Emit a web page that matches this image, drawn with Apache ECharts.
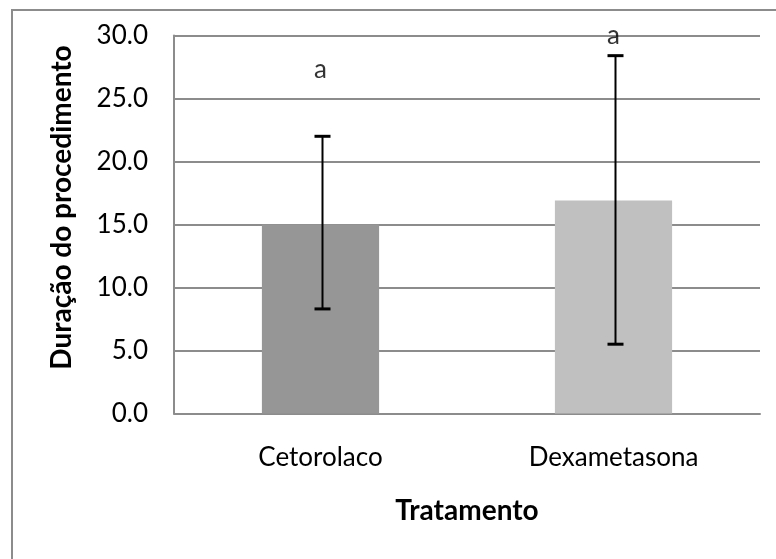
<!DOCTYPE html>
<html>
<head>
<meta charset="utf-8">
<script src="https://cdn.jsdelivr.net/npm/echarts@6/dist/echarts.min.js"></script>
<style>
  html, body { margin: 0; padding: 0; background: #fff; }
  #chart { width: 776px; height: 559px; }
</style>
</head>
<body>
<div id="chart"></div>
<script>
// Treatments compared
const categories = ['Cetorolaco', 'Dexametasona'];
// Mean procedure duration per treatment
const means = [15.0, 16.9];
// Error bar limits (lower / upper)
const errLow = [8.3, 5.5];
const errHigh = [22.0, 28.4];
// Significance letters and the height at which each sits
const letters = ['a', 'a'];
const letterY = [27.3, 30.0];
// Y axis ticks
const yMin = 0, yMax = 30, yStep = 5;

const FONT = 'Lato';
const GRAY = '#8c8c8c';
const barColors = ['#969696', '#c0c0c0'];

const chart = echarts.init(document.getElementById('chart'), null, { renderer: 'canvas' });

chart.setOption({
  backgroundColor: '#ffffff',
  animation: false,
  graphic: [{
    type: 'rect',
    shape: { x: 12, y: 10, width: 900, height: 700 },
    style: { fill: 'none', stroke: GRAY, lineWidth: 2 },
    z: 0
  }],
  grid: { left: 174, right: 16, top: 35.5, bottom: 145.5, containLabel: false },
  xAxis: {
    type: 'category',
    data: categories,
    name: 'Tratamento',
    nameLocation: 'middle',
    nameGap: 83,
    nameTextStyle: { fontFamily: FONT, fontSize: 28, fontWeight: 'bold', color: '#000' },
    axisLine: { lineStyle: { color: GRAY, width: 2 } },
    axisTick: { show: false },
    axisLabel: { fontFamily: FONT, fontSize: 26, color: '#000', margin: 31 }
  },
  yAxis: {
    type: 'value',
    min: yMin, max: yMax, interval: yStep,
    name: 'Duração do procedimento',
    nameLocation: 'middle',
    nameGap: 98,
    nameTextStyle: {
      fontFamily: FONT, fontSize: 28, fontWeight: 'bold', color: '#000',
      padding: [0, 0, 0, 34]
    },
    axisLine: { show: true, lineStyle: { color: GRAY, width: 2 } },
    axisTick: { show: false },
    splitLine: { lineStyle: { color: GRAY, width: 2 } },
    axisLabel: {
      fontFamily: FONT, fontSize: 26, color: '#000', margin: 26,
      formatter: v => v.toFixed(1)
    }
  },
  series: [
    {
      type: 'bar',
      barWidth: '40%',
      data: means.map((v, i) => ({ value: v, itemStyle: { color: barColors[i] } })),
      z: 2
    },
    {
      type: 'custom',
      z: 3,
      data: categories.map((c, i) => [i, errLow[i], errHigh[i]]),
      renderItem: function (params, api) {
        const x = api.value(0);
        const lo = api.coord([x, api.value(1)]);
        const hi = api.coord([x, api.value(2)]);
        const cx = lo[0] + 2;
        const half = 8;
        return {
          type: 'group',
          children: [
            { type: 'line', shape: { x1: cx, y1: hi[1], x2: cx, y2: lo[1] },
              style: { stroke: '#000', lineWidth: 2 } },
            { type: 'line', shape: { x1: cx - half, y1: hi[1], x2: cx + half, y2: hi[1] },
              style: { stroke: '#000', lineWidth: 3 } },
            { type: 'line', shape: { x1: cx - half, y1: lo[1], x2: cx + half, y2: lo[1] },
              style: { stroke: '#000', lineWidth: 3 } }
          ]
        };
      }
    },
    {
      type: 'scatter',
      z: 4,
      symbolSize: 0,
      data: letters.map((t, i) => ({ value: [i, letterY[i]], name: t })),
      label: {
        show: true,
        position: 'inside',
        formatter: p => p.name,
        fontFamily: FONT, fontSize: 26, color: '#000'
      }
    }
  ]
});
</script>
</body>
</html>
